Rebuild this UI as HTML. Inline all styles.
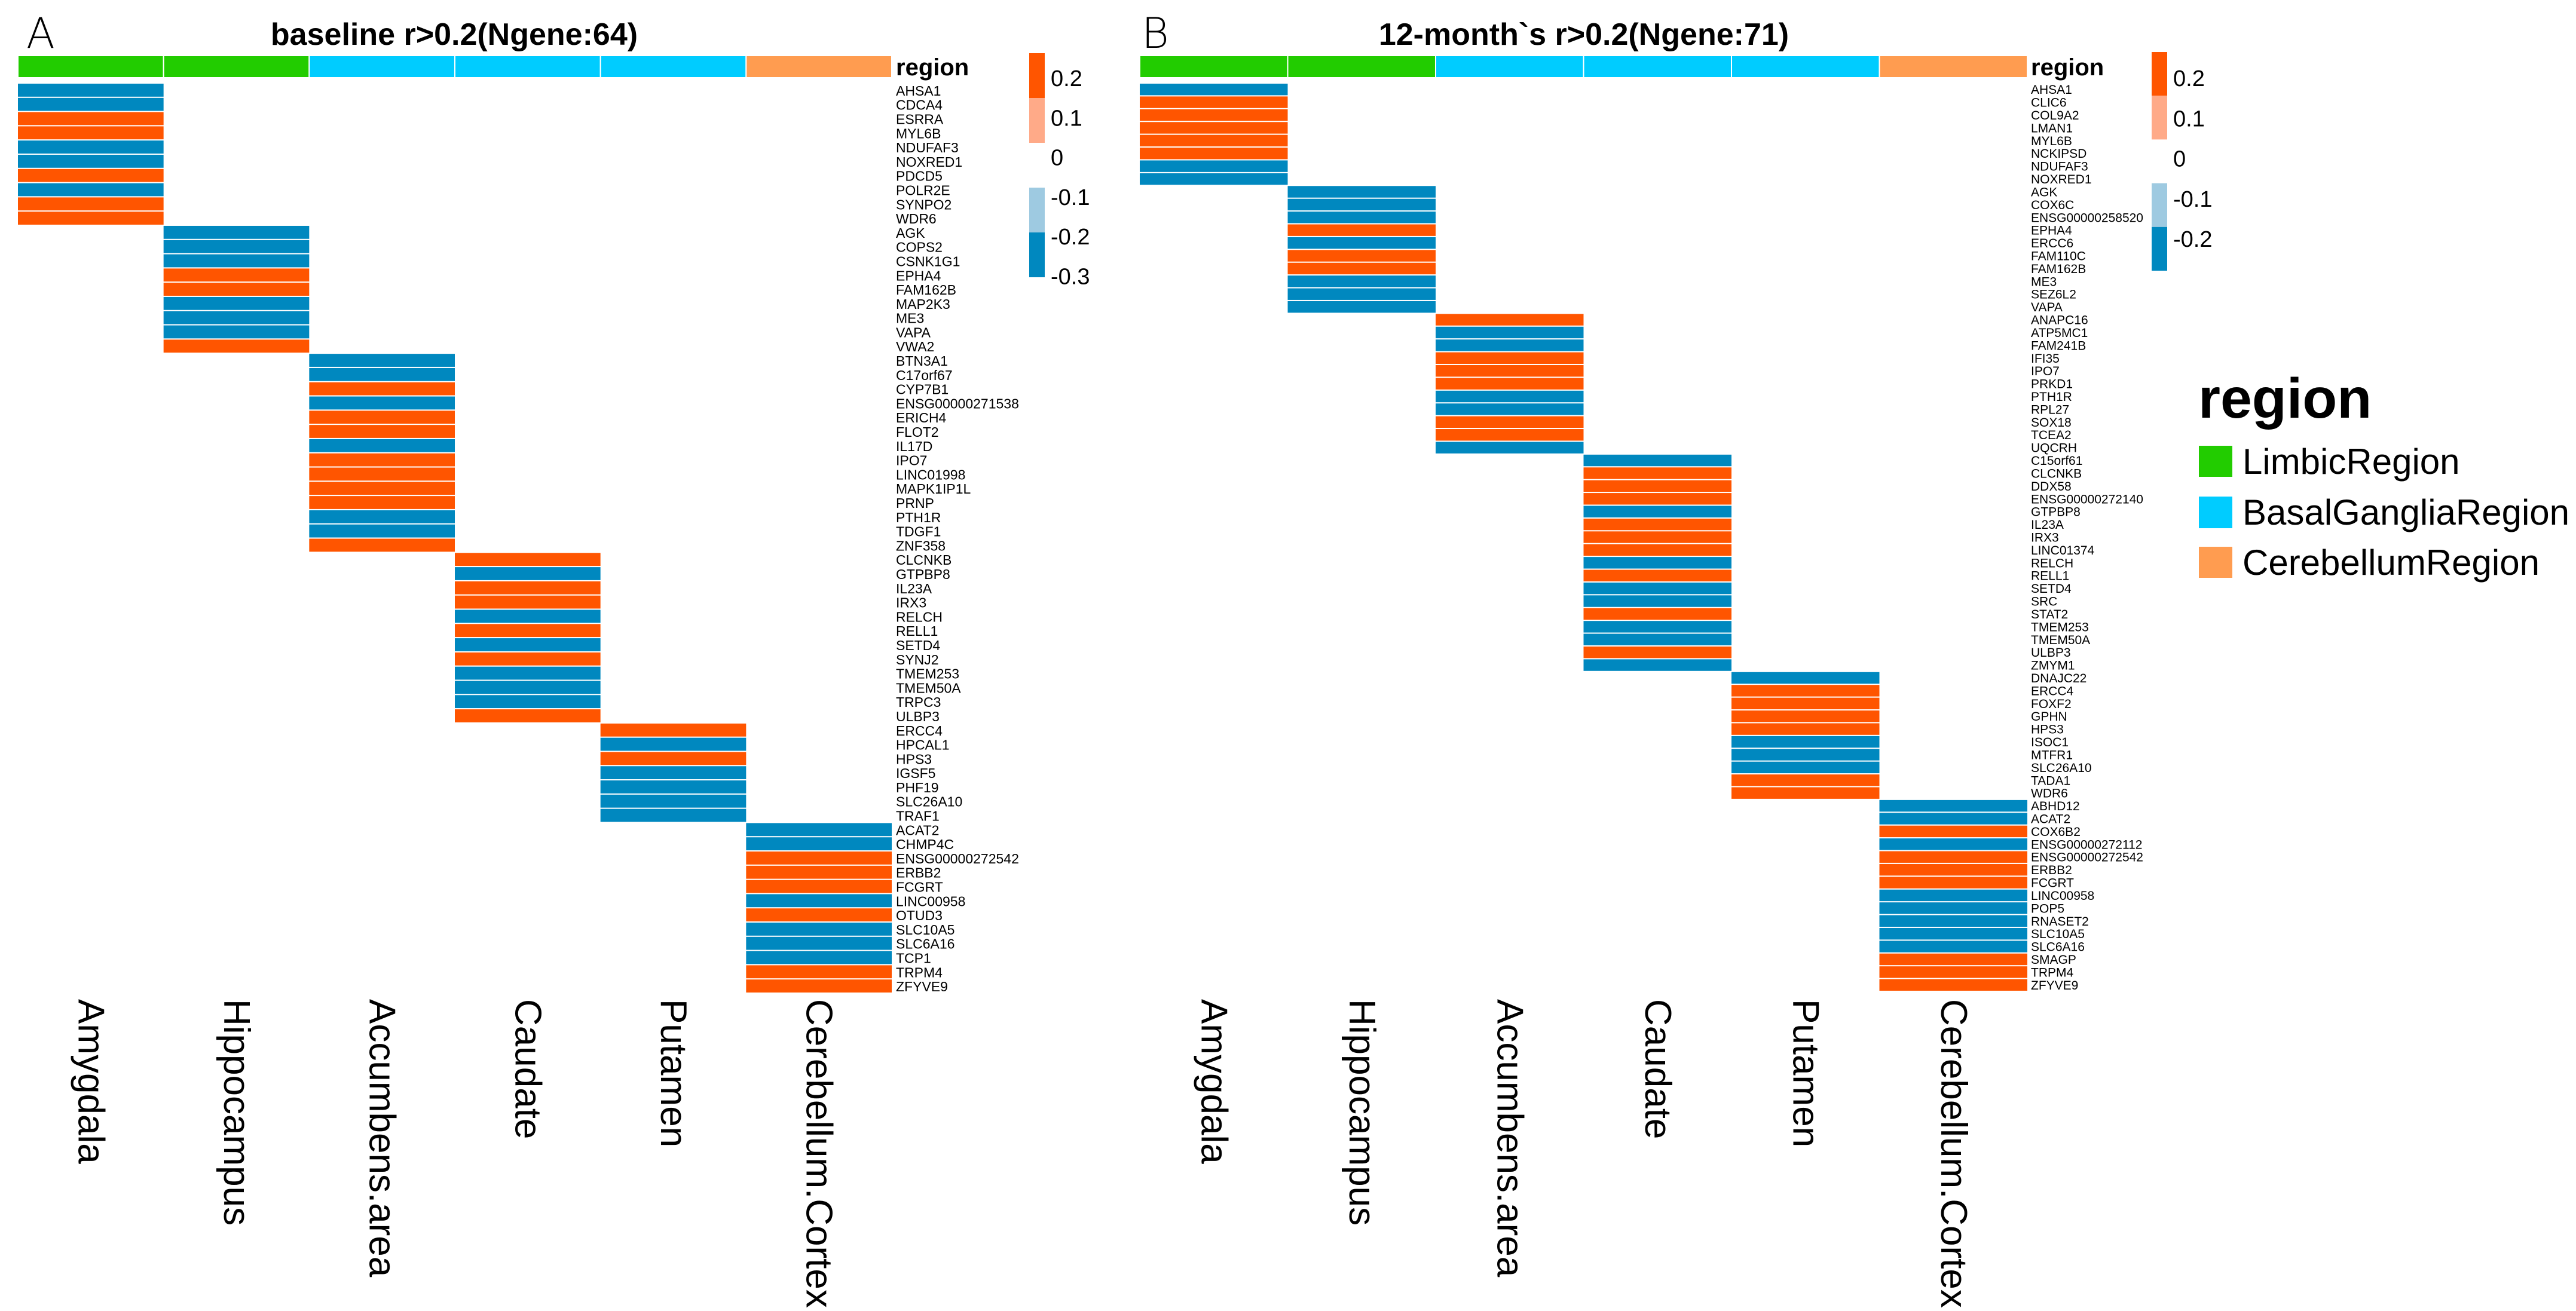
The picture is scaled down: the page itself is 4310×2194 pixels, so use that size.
<!DOCTYPE html>
<html><head><meta charset="utf-8">
<style>
html,body{margin:0;padding:0;background:#fff;}
svg{display:block;font-family:"Liberation Sans",Arial,sans-serif;}
</style></head>
<body>
<svg id="chart" width="4310" height="2194" viewBox="0 0 4310 2194" xmlns="http://www.w3.org/2000/svg">
<rect x="0" y="0" width="4310" height="2194" fill="#fff"/>
<text x="44" y="80" font-size="70" fill="#000" font-family="DejaVu Sans, sans-serif" font-weight="200">A</text>
<text x="760" y="75" font-size="52" font-weight="bold" text-anchor="middle">baseline r&gt;0.2(Ngene:64)</text>
<text x="1910" y="80" font-size="70" fill="#000" font-family="DejaVu Sans, sans-serif" font-weight="200">B</text>
<text x="2650" y="75" font-size="52" font-weight="bold" text-anchor="middle">12-month`s r&gt;0.2(Ngene:71)</text>
<g id="ga"></g>
<g id="gb"></g>
<g id="legend" transform="translate(0,22)">
<text x="3678" y="677" font-size="95" font-weight="bold">region</text>
<rect x="3679" y="724" width="56" height="52" fill="#22CC00"/>
<text x="3752" y="771" font-size="60">LimbicRegion</text>
<rect x="3679" y="809" width="56" height="53" fill="#00CCFF"/>
<text x="3752" y="856" font-size="60">BasalGangliaRegion</text>
<rect x="3679" y="893" width="56" height="52" fill="#FF9C50"/>
<text x="3752" y="940" font-size="60">CerebellumRegion</text>
</g>
</svg>
<script>
const regions = ["Amygdala","Hippocampus","Accumbens.area","Caudate","Putamen","Cerebellum.Cortex"];
const regionGroups = ["LimbicRegion","LimbicRegion","BasalGangliaRegion","BasalGangliaRegion","BasalGangliaRegion","CerebellumRegion"];
const groupColors = {"LimbicRegion":"#22CC00","BasalGangliaRegion":"#00CCFF","CerebellumRegion":"#FF9C50"};

const genesA = ["AHSA1","CDCA4","ESRRA","MYL6B","NDUFAF3","NOXRED1","PDCD5","POLR2E","SYNPO2","WDR6",
"AGK","COPS2","CSNK1G1","EPHA4","FAM162B","MAP2K3","ME3","VAPA","VWA2",
"BTN3A1","C17orf67","CYP7B1","ENSG00000271538","ERICH4","FLOT2","IL17D","IPO7","LINC01998","MAPK1IP1L","PRNP","PTH1R","TDGF1","ZNF358",
"CLCNKB","GTPBP8","IL23A","IRX3","RELCH","RELL1","SETD4","SYNJ2","TMEM253","TMEM50A","TRPC3","ULBP3",
"ERCC4","HPCAL1","HPS3","IGSF5","PHF19","SLC26A10","TRAF1",
"ACAT2","CHMP4C","ENSG00000272542","ERBB2","FCGRT","LINC00958","OTUD3","SLC10A5","SLC6A16","TCP1","TRPM4","ZFYVE9"];
const regionIdxA = [0,0,0,0,0,0,0,0,0,0, 1,1,1,1,1,1,1,1,1, 2,2,2,2,2,2,2,2,2,2,2,2,2,2, 3,3,3,3,3,3,3,3,3,3,3,3, 4,4,4,4,4,4,4, 5,5,5,5,5,5,5,5,5,5,5,5];
const valuesA = [-0.25,-0.25,0.25,0.25,-0.25,-0.25,0.25,-0.25,0.25,0.25,
-0.25,-0.25,-0.25,0.25,0.25,-0.25,-0.25,-0.25,0.25,
-0.25,-0.25,0.25,-0.25,0.25,0.25,-0.25,0.25,0.25,0.25,0.25,-0.25,-0.25,0.25,
0.25,-0.25,0.25,0.25,-0.25,0.25,-0.25,0.25,-0.25,-0.25,-0.25,0.25,
0.25,-0.25,0.25,-0.25,-0.25,-0.25,-0.25,
-0.25,-0.25,0.25,0.25,0.25,-0.25,0.25,-0.25,-0.25,-0.25,0.25,0.25];

const genesB = ["AHSA1","CLIC6","COL9A2","LMAN1","MYL6B","NCKIPSD","NDUFAF3","NOXRED1",
"AGK","COX6C","ENSG00000258520","EPHA4","ERCC6","FAM110C","FAM162B","ME3","SEZ6L2","VAPA",
"ANAPC16","ATP5MC1","FAM241B","IFI35","IPO7","PRKD1","PTH1R","RPL27","SOX18","TCEA2","UQCRH",
"C15orf61","CLCNKB","DDX58","ENSG00000272140","GTPBP8","IL23A","IRX3","LINC01374","RELCH","RELL1","SETD4","SRC","STAT2","TMEM253","TMEM50A","ULBP3","ZMYM1",
"DNAJC22","ERCC4","FOXF2","GPHN","HPS3","ISOC1","MTFR1","SLC26A10","TADA1","WDR6",
"ABHD12","ACAT2","COX6B2","ENSG00000272112","ENSG00000272542","ERBB2","FCGRT","LINC00958","POP5","RNASET2","SLC10A5","SLC6A16","SMAGP","TRPM4","ZFYVE9"];
const regionIdxB = [0,0,0,0,0,0,0,0, 1,1,1,1,1,1,1,1,1,1, 2,2,2,2,2,2,2,2,2,2,2, 3,3,3,3,3,3,3,3,3,3,3,3,3,3,3,3,3, 4,4,4,4,4,4,4,4,4,4, 5,5,5,5,5,5,5,5,5,5,5,5,5,5,5];
const valuesB = [-0.25,0.25,0.25,0.25,0.25,0.25,-0.25,-0.25,
-0.25,-0.25,-0.25,0.25,-0.25,0.25,0.25,-0.25,-0.25,-0.25,
0.25,-0.25,-0.25,0.25,0.25,0.25,-0.25,-0.25,0.25,0.25,-0.25,
-0.25,0.25,0.25,0.25,-0.25,0.25,0.25,0.25,-0.25,0.25,-0.25,-0.25,0.25,-0.25,-0.25,0.25,-0.25,
-0.25,0.25,0.25,0.25,0.25,-0.25,-0.25,-0.25,0.25,0.25,
-0.25,-0.25,0.25,-0.25,0.25,0.25,0.25,-0.25,-0.25,-0.25,-0.25,-0.25,0.25,0.25,0.25];

const ticksA = ["0.2","0.1","0","-0.1","-0.2","-0.3"];
const ticksB = ["0.2","0.1","0","-0.1","-0.2"];

const NS = "http://www.w3.org/2000/svg";
function mk(tag, attrs, parent){
  const e = document.createElementNS(NS, tag);
  for (const k in attrs) e.setAttribute(k, attrs[k]);
  parent.appendChild(e);
  return e;
}
function valColor(v){
  if (v >= 0.15) return "#FF5500";
  if (v > 0) return "#FFAA88";
  if (v > -0.15) return "#9ECAE1";
  return "#0088BF";
}

function drawPanel(g, cfg){
  const colW = (cfg.right - cfg.left) / regions.length;
  const xOf = i => cfg.left + i * colW;
  const rowH = (cfg.bottom - cfg.top) / cfg.genes.length;
  const yOf = i => cfg.top + i * rowH;
  regions.forEach((r, i) => {
    const a = mk("rect", {x: xOf(i), y: 93, width: colW, height: 37, fill: groupColors[regionGroups[i]], stroke: "#fff", "stroke-width": 2}, g);
    
    
  });
  const rl = mk("text", {x: cfg.labelX, y: 126, "font-size": 40, "font-weight": "bold"}, g);
  rl.textContent = "region";
  
  
  cfg.genes.forEach((gn, i) => {
    const c = mk("rect", {x: xOf(cfg.regionIdx[i]), y: yOf(i), width: colW, height: rowH - 2, fill: valColor(cfg.values[i])}, g);
    
    
    const t = mk("text", {x: cfg.labelX, y: yOf(i) + rowH / 2, "font-size": cfg.geneFont, "dominant-baseline": "central"}, g);
    t.textContent = gn;
    
    
  });
  regions.forEach((r, i) => {
    const cx = xOf(i) + colW / 2;
    const t = mk("text", {x: 0, y: 0, "font-size": 62, "dominant-baseline": "central", transform: "translate(" + cx + ",1672) rotate(90)"}, g);
    t.textContent = r;
    
    
  });
  const segs = [["#FF5500"],["#FFAA88"],[null],["#9ECAE1"],["#0088BF"]];
  const segH = cfg.segH;
  segs.forEach((s, i) => {
    if (!s[0]) return;
    const r = mk("rect", {x: cfg.cbX, y: cfg.cbTop + i * segH, width: 26, height: segH, fill: s[0]}, g);
    
    
  });
  cfg.ticks.forEach((tk, i) => {
    const t = mk("text", {x: cfg.cbX + 36, y: cfg.tickY0 + i * cfg.tickStep, "font-size": 38, "dominant-baseline": "central"}, g);
    t.textContent = tk;
    
    
  });
}

const gA = document.getElementById("ga");


drawPanel(gA, {left: 30, right: 1492, top: 140, bottom: 1663, genes: genesA, regionIdx: regionIdxA, values: valuesA,
  labelX: 1499, geneFont: 23, cbX: 1722, cbTop: 89, segH: 75, ticks: ticksA, tickY0: 132, tickStep: 66.3});
const gB = document.getElementById("gb");


drawPanel(gB, {left: 1907, right: 3392, top: 140, bottom: 1660, genes: genesB, regionIdx: regionIdxB, values: valuesB,
  labelX: 3398, geneFont: 21, cbX: 3600, cbTop: 87, segH: 73.2, ticks: ticksB, tickY0: 132, tickStep: 67.3});
</script>
</body></html>
